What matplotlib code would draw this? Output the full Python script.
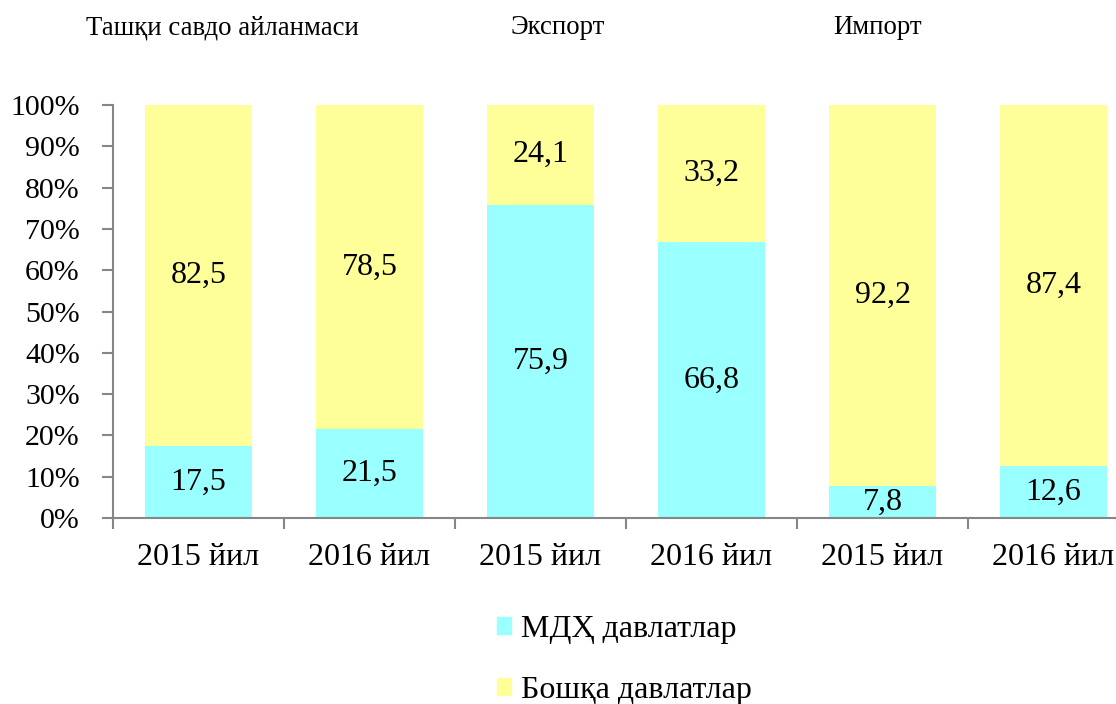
import matplotlib.pyplot as plt
from matplotlib.patches import Patch
from matplotlib.ticker import PercentFormatter

plt.rcParams['font.family'] = ['Liberation Serif', 'DejaVu Serif']

# data
categories = ["2015 йил", "2016 йил", "2015 йил", "2016 йил", "2015 йил", "2016 йил"]
cis_share = [17.5, 21.5, 75.9, 66.8, 7.8, 12.6]
other_share = [82.5, 78.5, 24.1, 33.2, 92.2, 87.4]
group_titles = ["Ташқи савдо айланмаси", "Экспорт", "Импорт"]
series_names = ["МДҲ давлатлар", "Бошқа давлатлар"]

cyan = "#99FFFF"
yellow = "#FFFF99"
axis_gray = "#868686"

fig = plt.figure(figsize=(11.16, 7.04), dpi=100)
ax = fig.add_axes([113 / 1116, 186 / 704, 1026 / 1116, 413 / 704])

x = range(len(categories))
ax.bar(x, cis_share, width=0.625, color=cyan)
ax.bar(x, other_share, width=0.625, bottom=cis_share, color=yellow)

# labels in the middle of each segment
for i in x:
    ax.text(i, cis_share[i] / 2, f"{cis_share[i]:.1f}".replace(".", ","),
            ha="center", va="center", fontsize=23)
    ax.text(i, cis_share[i] + other_share[i] / 2,
            f"{other_share[i]:.1f}".replace(".", ","),
            ha="center", va="center", fontsize=23)

ax.set_xlim(-0.5, len(categories) - 0.5)
ax.set_ylim(0, 100)
ax.set_yticks(range(0, 101, 10))
ax.yaxis.set_major_formatter(PercentFormatter(decimals=0))
ax.tick_params(axis="y", length=8, width=1.5, color=axis_gray, pad=16, labelsize=21.5)

# ticks on the category boundaries, labels centred on the bars
ax.set_xticks([-0.5] + [i + 0.5 for i in x])
ax.set_xticklabels([])
ax.tick_params(axis="x", which="major", length=8, width=1.5, color=axis_gray, direction="out")
ax.set_xticks(list(x), minor=True)
ax.set_xticklabels(categories, minor=True)
ax.tick_params(axis="x", which="minor", length=0, pad=18, labelsize=23)

for side in ["top", "right"]:
    ax.spines[side].set_visible(False)
for side in ["left", "bottom"]:
    ax.spines[side].set_color(axis_gray)
    ax.spines[side].set_linewidth(1.5)

# group titles above the chart
fig.text(222 / 1116, 1 - 28 / 704, group_titles[0], ha="center", va="center", fontsize=19.3)
fig.text(558 / 1116, 1 - 28 / 704, group_titles[1], ha="center", va="center", fontsize=19.3)
fig.text(878 / 1116, 1 - 28 / 704, group_titles[2], ha="center", va="center", fontsize=19.3)

handles = [Patch(color=cyan), Patch(color=yellow)]
fig.legend(handles, series_names, loc="upper left",
           bbox_to_anchor=(468 / 1116, 1 - 586 / 704), frameon=False,
           fontsize=23, handlelength=0.45, handleheight=0.45, handletextpad=0.3,
           labelspacing=1.0)

fig.savefig("out.png", dpi=100)
